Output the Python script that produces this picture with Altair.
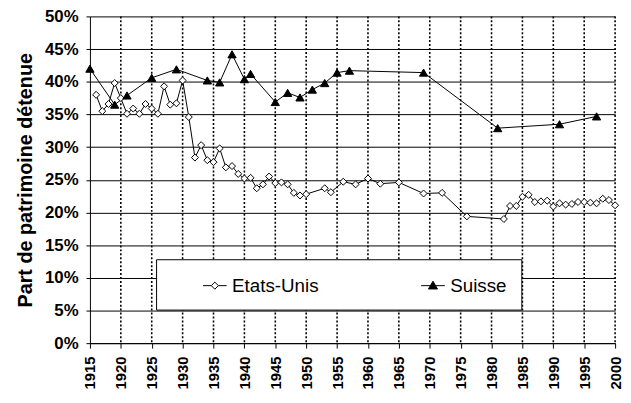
import altair as alt
import pandas as pd

# ---- data ----
us_years = list(range(1916, 1951)) + [1953, 1954, 1956, 1958, 1960, 1962, 1965, 1969, 1972, 1976] + list(range(1982, 2001))
us_values = [38.0, 35.5, 36.6, 39.8, 37.5, 35.1, 35.9, 35.1, 36.6, 35.9,
             35.1, 39.3, 36.5, 36.7, 40.2, 34.6, 28.4, 30.3, 28.0, 27.7,
             29.8, 26.9, 27.1, 25.9, 25.2, 25.3, 23.7, 24.3, 25.5, 24.5,
             24.6, 24.3, 23.0, 22.6, 22.8,
             23.7, 23.1, 24.7, 24.3, 25.2, 24.4, 24.6, 22.9, 23.0, 19.4,
             19.0, 21.0, 21.0, 22.4, 22.7, 21.6, 21.7, 21.8, 20.9, 21.4,
             21.2, 21.3, 21.6, 21.6, 21.5, 21.4, 22.1, 21.9, 21.1]
ch_years = [1915, 1919, 1921, 1925, 1929, 1934, 1936, 1938, 1940, 1941, 1945,
            1947, 1949, 1951, 1953, 1955, 1957, 1969, 1981, 1991, 1997]
ch_values = [42.0, 36.5, 37.9, 40.6, 41.9, 40.2, 39.9, 44.2, 40.4, 41.2, 36.9,
             38.3, 37.6, 38.8, 39.8, 41.4, 41.7, 41.4, 32.9, 33.5, 34.7]
series_names = ["Etats-Unis", "Suisse"]
x_ticks = list(range(1915, 2001, 5))
y_ticks = list(range(0, 51, 5))

us = pd.DataFrame({"annee": us_years, "part": us_values, "serie": series_names[0]})
ch = pd.DataFrame({"annee": ch_years, "part": ch_values, "serie": series_names[1]})
df = pd.concat([us, ch], ignore_index=True)
vgrid_df = pd.DataFrame({"annee": x_ticks[1:]})

FONT = "Liberation Sans"
x_scale = alt.Scale(domain=[1915, 2000], nice=False, zero=False)
y_scale = alt.Scale(domain=[0, 50], nice=False)

x_enc = alt.X(
    "annee:Q", scale=x_scale,
    axis=alt.Axis(
        values=x_ticks, format="d", labelAngle=-90, labelFont=FONT,
        labelFontSize=15, labelFontWeight="bold", labelColor="black",
        labelPadding=8, tickColor="black", tickSize=5, domainColor="black",
        domainWidth=1, grid=False, title=None,
    ),
)
y_enc = alt.Y(
    "part:Q", scale=y_scale,
    axis=alt.Axis(
        values=y_ticks, labelExpr="datum.value + '%'", labelFont=FONT,
        labelFontSize=17, labelFontWeight="bold", labelColor="black",
        labelPadding=8, tickColor="black", tickSize=4, domainColor="black",
        domainWidth=1, grid=True, gridColor="black", gridWidth=1,
        title="Part de patrimoine détenue", titleFont=FONT, titleFontSize=20,
        titleFontWeight="bold", titleColor="black", titlePadding=9,
    ),
)

path_us = "M-1,0L-0.3,0M-0.3,0L0,-0.3L0.3,0L0,0.3ZM0.3,0L1,0"
path_ch = "M-1,0L1,0M-0.38,0.28L0,-0.38L0.38,0.28Z"

legend = alt.Legend(
    orient="none", legendX=67, legendY=246, direction="horizontal", title=None,
    fillColor="white", strokeColor="black", padding=14, symbolSize=576,
    symbolStrokeWidth=1, symbolStrokeColor="black", symbolOpacity=1,
    labelFont=FONT, labelFontSize=19, labelColor="black", columnPadding=70,
    symbolOffset=33, labelOffset=5,
)

vgrid = alt.Chart(vgrid_df).mark_rule(
    color="black", strokeWidth=1.6, strokeDash=[2, 2]
).encode(x=x_enc)

lines = alt.Chart(df).mark_line(color="black", strokeWidth=1).encode(
    x=x_enc, y=y_enc, detail="serie:N"
)
us_pts = alt.Chart(us).mark_point(
    shape="diamond", filled=True, fill="white", stroke="black",
    strokeWidth=1, size=50, opacity=1
).encode(x=x_enc, y=y_enc)
ch_pts = alt.Chart(ch).mark_point(
    shape="triangle-up", filled=True, fill="black", stroke="black",
    strokeWidth=1, size=70, opacity=1
).encode(x=x_enc, y=y_enc)
driver = alt.Chart(df).transform_filter("false").mark_point(filled=True).encode(
    x=x_enc, y=y_enc,
    shape=alt.Shape("serie:N", scale=alt.Scale(domain=series_names, range=[path_us, path_ch]), legend=legend),
    fill=alt.Fill("serie:N", scale=alt.Scale(domain=series_names, range=["white", "black"]), legend=legend),
    stroke=alt.Stroke("serie:N", scale=alt.Scale(domain=series_names, range=["black", "black"]), legend=legend),
)

chart = (
    alt.layer(vgrid, lines, us_pts, ch_pts, driver)
    .properties(
        width=532, height=331,
        autosize=alt.AutoSizeParams(type="none"),
        padding={"left": 83, "top": 6, "right": 8, "bottom": 50},
        background="white",
    )
    .configure_view(stroke=None)
)

chart.save("out.html", embed_options={"renderer": "svg", "actions": False})
